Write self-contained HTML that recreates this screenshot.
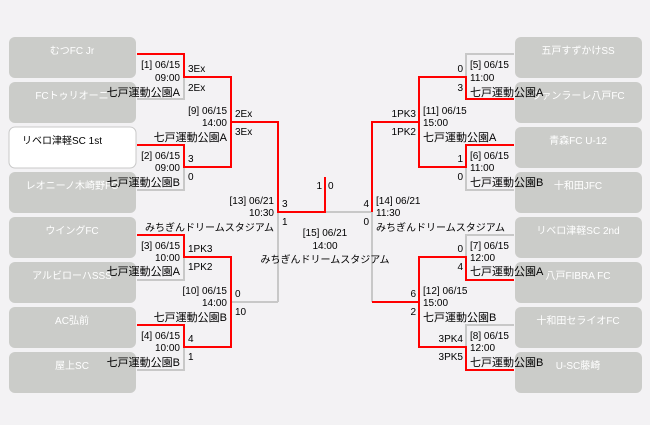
<!DOCTYPE html>
<html><head><meta charset="utf-8"><style>
html,body{margin:0;padding:0;background:#f3f2f4;}
svg{display:block;font-family:"Liberation Sans","Noto Sans CJK JP",sans-serif;font-size:10px;}
</style></head><body>
<svg width="650" height="425" viewBox="0 0 650 425" xmlns="http://www.w3.org/2000/svg">
<rect width="650" height="425" fill="#f3f2f4"/>
<g fill="#cbccc9">
<rect x="9" y="37" width="127" height="41" rx="6"/>
<rect x="9" y="82" width="127" height="41" rx="6"/>
<rect x="9" y="127" width="127" height="41" rx="6" fill="#fff" stroke="#c8c8c8"/>
<rect x="9" y="172" width="127" height="41" rx="6"/>
<rect x="9" y="217" width="127" height="41" rx="6"/>
<rect x="9" y="262" width="127" height="41" rx="6"/>
<rect x="9" y="307" width="127" height="41" rx="6"/>
<rect x="9" y="352" width="127" height="41" rx="6"/>
<rect x="515" y="37" width="127" height="41" rx="6"/>
<rect x="515" y="82" width="127" height="41" rx="6"/>
<rect x="515" y="127" width="127" height="41" rx="6"/>
<rect x="515" y="172" width="127" height="41" rx="6"/>
<rect x="515" y="217" width="127" height="41" rx="6"/>
<rect x="515" y="262" width="127" height="41" rx="6"/>
<rect x="515" y="307" width="127" height="41" rx="6"/>
<rect x="515" y="352" width="127" height="41" rx="6"/>
</g>
<g font-size="10" text-anchor="middle" fill="#fff">
<text x="72" y="54">むつFC Jr</text>
<text x="72" y="99">FCトゥリオーニ</text>
<text x="62" y="144" fill="#000">リベロ津軽SC 1st</text>
<text x="72" y="189">レオニーノ木崎野FC</text>
<text x="72" y="234">ウイングFC</text>
<text x="72" y="279">アルビローハSSS</text>
<text x="72" y="324">AC弘前</text>
<text x="72" y="369">屋上SC</text>
<text x="578" y="54">五戸すずかけSS</text>
<text x="578" y="99">ヴァンラーレ八戸FC</text>
<text x="578" y="144">青森FC U-12</text>
<text x="578" y="189">十和田JFC</text>
<text x="578" y="234">リベロ津軽SC 2nd</text>
<text x="578" y="279">八戸FIBRA FC</text>
<text x="578" y="324">十和田セライオFC</text>
<text x="578" y="369">U-SC藤崎</text>
</g>
<g fill="none" stroke="#c8c8c8" stroke-width="2">
<path d="M137 99H184V77"/><path d="M137 190H184V167"/><path d="M231 122V167"/>
<path d="M137 280H184V257"/><path d="M137 370H184V347"/><path d="M231 257V302H278"/>
<path d="M278 212V302"/><path d="M325 212H372"/><path d="M372 212V302"/>
<path d="M514 54H466V77"/><path d="M514 190H466V167"/><path d="M419 77V122"/><path d="M419 167V122"/>
<path d="M514 235H466V257"/><path d="M514 325H466V347"/><path d="M419 302V347"/>
<path d="M372 122V212"/>
</g>
<g fill="none" stroke="#f00" stroke-width="2">
<path d="M137 54H184V77H231V122H278V212H325V177"/>
<path d="M137 145H184V167H231V122"/>
<path d="M137 235H184V257H231V302"/>
<path d="M137 325H184V347H231V302"/>
<path d="M514 99H466V77H419V122H372V212"/>
<path d="M514 145H466V167H419V122"/>
<path d="M514 280H466V257H419V302H372"/>
<path d="M514 370H466V347H419V302"/>
</g>
<g fill="#000" font-size="10">
<g text-anchor="end">
<text x="180" y="68">[1] 06/15</text><text x="180" y="81">09:00</text><text x="180" y="96" font-size="11">七戸運動公園A</text>
<text x="227" y="114">[9] 06/15</text><text x="227" y="126">14:00</text><text x="227" y="141" font-size="11">七戸運動公園A</text>
<text x="180" y="159">[2] 06/15</text><text x="180" y="171">09:00</text><text x="180" y="186" font-size="11">七戸運動公園B</text>
<text x="274" y="204">[13] 06/21</text><text x="274" y="216">10:30</text><text x="274" y="231">みちぎんドリームスタジアム</text>
<text x="180" y="249">[3] 06/15</text><text x="180" y="261">10:00</text><text x="180" y="275" font-size="11">七戸運動公園A</text>
<text x="227" y="294">[10] 06/15</text><text x="227" y="306">14:00</text><text x="227" y="321" font-size="11">七戸運動公園B</text>
<text x="180" y="339">[4] 06/15</text><text x="180" y="351">10:00</text><text x="180" y="366" font-size="11">七戸運動公園B</text>
<text x="322" y="189">1</text>
<text x="463" y="72">0</text><text x="463" y="91">3</text>
<text x="416" y="117">1PK3</text><text x="416" y="135">1PK2</text>
<text x="463" y="162">1</text><text x="463" y="180">0</text>
<text x="369" y="207">4</text><text x="369" y="225">0</text>
<text x="463" y="252">0</text><text x="463" y="270">4</text>
<text x="416" y="297">6</text><text x="416" y="315">2</text>
<text x="463" y="342">3PK4</text><text x="463" y="360">3PK5</text>
</g>
<g>
<text x="188" y="72">3Ex</text><text x="188" y="91">2Ex</text>
<text x="235" y="117">2Ex</text><text x="235" y="135">3Ex</text>
<text x="188" y="162">3</text><text x="188" y="180">0</text>
<text x="282" y="207">3</text><text x="282" y="225">1</text>
<text x="188" y="252">1PK3</text><text x="188" y="270">1PK2</text>
<text x="235" y="297">0</text><text x="235" y="315">10</text>
<text x="188" y="342">4</text><text x="188" y="360">1</text>
<text x="328" y="189">0</text>
<text x="470" y="68">[5] 06/15</text><text x="470" y="81">11:00</text><text x="470" y="96" font-size="11">七戸運動公園A</text>
<text x="423" y="114">[11] 06/15</text><text x="423" y="126">15:00</text><text x="423" y="141" font-size="11">七戸運動公園A</text>
<text x="470" y="159">[6] 06/15</text><text x="470" y="171">11:00</text><text x="470" y="186" font-size="11">七戸運動公園B</text>
<text x="376" y="204">[14] 06/21</text><text x="376" y="216">11:30</text><text x="376" y="231">みちぎんドリームスタジアム</text>
<text x="470" y="249">[7] 06/15</text><text x="470" y="261">12:00</text><text x="470" y="275" font-size="11">七戸運動公園A</text>
<text x="423" y="294">[12] 06/15</text><text x="423" y="306">15:00</text><text x="423" y="321" font-size="11">七戸運動公園B</text>
<text x="470" y="339">[8] 06/15</text><text x="470" y="351">12:00</text><text x="470" y="366" font-size="11">七戸運動公園B</text>
</g>
<g text-anchor="middle">
<text x="325" y="236">[15] 06/21</text><text x="325" y="249">14:00</text><text x="325" y="263">みちぎんドリームスタジアム</text>
</g>
</g>
</svg>
</body></html>
